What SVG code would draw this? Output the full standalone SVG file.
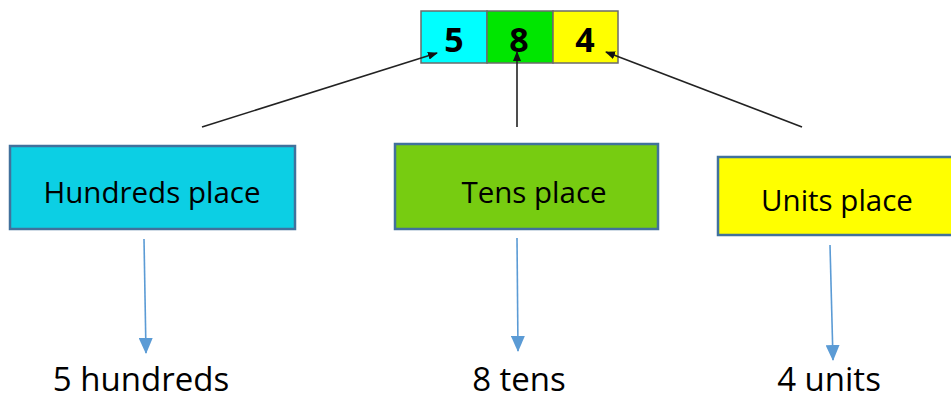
<svg xmlns="http://www.w3.org/2000/svg" width="951" height="401" viewBox="0 0 951 401">
<style>
.cell{stroke:#6b6b6b;stroke-width:1.5}
.digit{font-family:"Open Sans","Liberation Sans",sans-serif;font-weight:bold;font-size:34px;text-anchor:middle;fill:#000}
.box{stroke:#41719c;stroke-width:2.5}
.lbl{font-family:"Open Sans","Liberation Sans",sans-serif;font-size:29.5px;text-anchor:middle;fill:#000}
.res{font-family:"Open Sans","Liberation Sans",sans-serif;font-size:33px;text-anchor:middle;fill:#000}
.blk{stroke:#222;stroke-width:1.6;fill:none}
.blu{stroke:#5b9bd5;stroke-width:1.6;fill:none}
</style>
<defs>
<marker id="ab" markerWidth="10" markerHeight="8" refX="9" refY="4" orient="auto" markerUnits="userSpaceOnUse">
<path d="M0,0 L10,4 L0,8 Z" fill="#111"/>
</marker>
<marker id="au" markerWidth="16" markerHeight="14" refX="15" refY="7" orient="auto" markerUnits="userSpaceOnUse">
<path d="M0,0 L16,7 L0,14 Z" fill="#5b9bd5"/>
</marker>
</defs>
<rect width="951" height="401" fill="#fff"/>
<g id="number">
<rect class="cell" x="421" y="11" width="66" height="52" fill="#00ffff"/>
<rect class="cell" x="487" y="11" width="66" height="52" fill="#00e600"/>
<rect class="cell" x="553" y="11" width="65" height="52" fill="#ffff00"/>
<text class="digit" x="454" y="52">5</text>
<text class="digit" x="519" y="52">8</text>
<text class="digit" x="585" y="52">4</text>
</g>
<g id="hundreds">
<rect class="box" x="10" y="146" width="285" height="83" fill="#0ccfe4"/>
<text class="lbl" x="152" y="203">Hundreds place</text>
</g>
<g id="tens">
<rect class="box" x="395" y="144" width="263" height="85" fill="#77cc11"/>
<text class="lbl" x="534" y="203">Tens place</text>
</g>
<g id="units">
<rect class="box" x="718" y="157" width="240" height="78" fill="#ffff00"/>
<text class="lbl" x="837" y="211">Units place</text>
</g>
<g id="r5"><text class="res" x="141" y="391">5 hundreds</text></g>
<g id="r8"><text class="res" x="519" y="391">8 tens</text></g>
<g id="r4"><text class="res" x="829" y="391">4 units</text></g>
<g id="connectors">
<line class="blk" x1="202" y1="127" x2="437" y2="53" marker-end="url(#ab)"/>
<line class="blk" x1="517" y1="127" x2="517" y2="52" marker-end="url(#ab)"/>
<line class="blk" x1="802" y1="127" x2="606" y2="52" marker-end="url(#ab)"/>
<line class="blu" x1="144" y1="239" x2="146" y2="353" marker-end="url(#au)"/>
<line class="blu" x1="517" y1="238" x2="518" y2="351" marker-end="url(#au)"/>
<line class="blu" x1="830" y1="245" x2="833" y2="360" marker-end="url(#au)"/>
</g>
</svg>
